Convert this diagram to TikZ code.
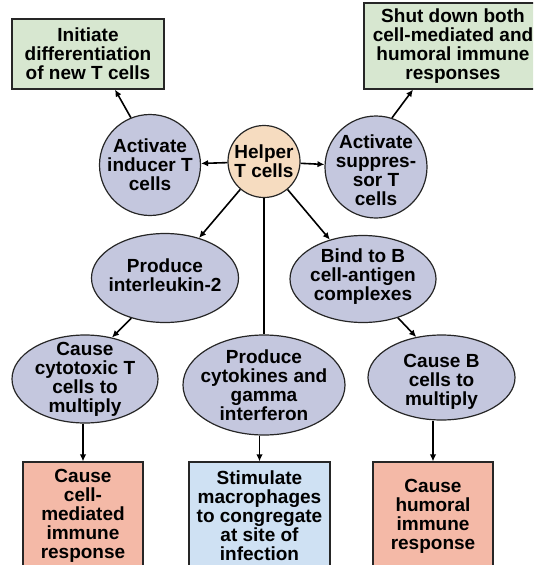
\documentclass[tikz,border=0pt]{standalone}
\usepackage{fontspec}
\setmainfont{Liberation Sans}
\usetikzlibrary{shapes.geometric,arrows.meta}
\definecolor{ovalfill}{HTML}{C4C7DE}
\definecolor{helperfill}{HTML}{F6DCC0}
\definecolor{goalfill}{HTML}{D7E7D0}
\definecolor{redfill}{HTML}{F4B9A7}
\definecolor{bluefill}{HTML}{CFE1F3}
\begin{document}
\begin{tikzpicture}
[x=1pt,y=-1pt,
 every node/.style={font=\bfseries\fontsize{19}{19}\selectfont,align=center},
 txt/.style={inner sep=0pt},
 oval/.style={draw=black!85,line width=1.2pt,ellipse,fill=ovalfill,inner sep=0pt},
 cell/.style={draw=black!85,line width=1.2pt,circle,fill=ovalfill,inner sep=0pt},
 goal/.style={draw=black!85,line width=1.2pt,rectangle,inner sep=0pt},
 arr/.style={draw,-{Latex[length=7pt,width=6.5pt]},line width=1.6pt}]
\useasboundingbox (0,0) rectangle (533,565);
\clip (0,0) rectangle (533,565);
\node[cell,fill=helperfill,minimum size=72pt,label={[txt]center:Helper\\T cells}](helper) at (264,161.5){};
\node[cell,minimum size=101pt,label={[txt]center:Activate\\inducer T\\cells}](inducer) at (150,165){};
\node[cell,minimum size=102pt,label={[txt,yshift=-3pt]center:Activate\\suppres-\\sor T\\cells}](suppr) at (376,167){};
\node[goal,fill=goalfill,minimum width=152pt,minimum height=70pt](init) at (88,54){Initiate\\differentiation\\of new T cells};
\node[goal,fill=goalfill,minimum width=178pt,minimum height=86pt](shut) at (453,46){Shut down both\\cell-mediated and\\humoral immune\\responses};
\node[oval,minimum width=147pt,minimum height=89pt,label={[txt,yshift=3pt]center:Produce\\interleukin-2}](il2) at (165,278){};
\node[oval,minimum width=146pt,minimum height=87pt,label={[txt,yshift=2pt]center:Bind to B\\cell-antigen\\complexes}](bind) at (363,279){};
\node[oval,minimum width=146pt,minimum height=88pt,label={[txt]center:Cause\\cytotoxic T\\cells to\\multiply}](cyto) at (85,379){};
\node[oval,minimum width=162pt,minimum height=100pt,label={[txt]center:Produce\\cytokines and\\gamma\\interferon}](cytok) at (264,385){};
\node[oval,minimum width=147pt,minimum height=85pt,label={[txt,yshift=-4pt]center:Cause B\\cells to\\multiply}](causeb) at (441.5,377.5){};
\node[goal,fill=redfill,minimum width=120pt,minimum height=108pt](cellmed) at (83,516){Cause\\cell-\\mediated\\immune\\response};
\node[goal,fill=bluefill,minimum width=141pt,minimum height=108pt](stim) at (259.5,516){Stimulate\\macrophages\\to congregate\\at site of\\infection};
\node[goal,fill=redfill,minimum width=120pt,minimum height=108pt](humoral) at (433,516){Cause\\humoral\\immune\\response};
\path (helper) edge[arr] (inducer); \path (helper) edge[arr] (suppr);
\path (helper) edge[arr] (il2); \path (helper) edge[arr] (bind);
\draw[line width=1.6pt] (helper) -- (cytok);
\path (inducer.112) edge[arr] ([xshift=27pt]init.south);
\path (suppr.72) edge[arr] ([xshift=-40pt]shut.south);
\path (il2.230) edge[arr] (cyto.57); \path (bind.312) edge[arr] (causeb.122);
\path (cellmed.north |- cyto.south) edge[arr] (cellmed.north);
\path (stim.north |- cytok.south) edge[arr] (stim.north);
\path (humoral.north |- causeb.south) edge[arr] (humoral.north);
\end{tikzpicture}
\end{document}
